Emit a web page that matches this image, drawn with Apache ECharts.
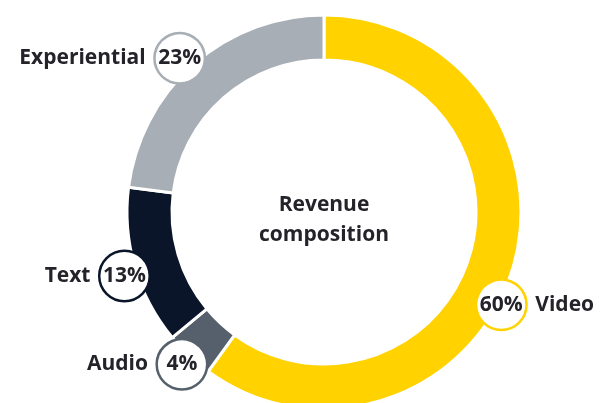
<!DOCTYPE html>
<html>
<head>
<meta charset="utf-8">
<script src="https://cdn.jsdelivr.net/npm/echarts@6/dist/echarts.min.js"></script>
<style>
  html, body { margin: 0; padding: 0; background: #fff; }
  #chart { width: 603px; height: 403px; }
</style>
</head>
<body>
<div id="chart"></div>
<script>
// Revenue composition by format (percent of total)
const categories = ['Video', 'Audio', 'Text', 'Experiential'];
const shares = [60, 4, 13, 23];
const centerTitle = 'Revenue\ncomposition';

const palette = {
  Video: '#FFD200',
  Audio: '#56606C',
  Text: '#0A1529',
  Experiential: '#A8AEB5'
};
const ink = '#25232A';
const fontFamily = '"Open Sans", Roboto, sans-serif';

// Ring geometry (px)
const CX = 324, CY = 212, R_IN = 152, R_OUT = 197;
const LABEL_R = 209;      // radius of the percentage badges
const BADGE = 25;         // badge radius
// Small per-badge adjustments; Video sits lower so its name fits the canvas
const labelNudge = {
  Video: { angle: 9.5, radius: -8 },
  Experiential: { angle: -2, radius: 2.5 },
  Text: { angle: -1.5, radius: 1.5 }
};

const total = shares.reduce((a, b) => a + b, 0);
let acc = 0;
const midAngles = shares.map(v => {
  const mid = (acc + v / 2) / total * 360;
  acc += v;
  return mid;
});

const chart = echarts.init(document.getElementById('chart'), null, { renderer: 'canvas' });

const data = categories.map((name, i) => {
  const rightSide = midAngles[i] < 180;
  return {
    name,
    value: shares[i],
    itemStyle: { color: palette[name] },
    label: {
      formatter: rightSide
        ? '{pct|' + shares[i] + '%}{gap|}{name|' + name + '}'
        : '{name|' + name + '}{gap|}{pct|' + shares[i] + '%}',
      rich: {
        name: { fontSize: 21, fontWeight: 'bold', color: ink, fontFamily, verticalAlign: 'middle' },
        gap: { width: 10 },
        pct: {
          fontSize: 21, fontWeight: 'bold', color: ink, fontFamily,
          width: 2 * BADGE - 2, height: 2 * BADGE - 2, lineHeight: 2 * BADGE - 2,
          align: 'center', verticalAlign: 'middle',
          backgroundColor: '#fff', borderColor: palette[name], borderWidth: 2.5,
          borderRadius: BADGE
        }
      }
    }
  };
});

chart.setOption({
  animation: false,
  backgroundColor: '#fff',
  graphic: [{
    type: 'text',
    x: CX, y: CY + 8,
    style: {
      text: centerTitle, align: 'center', verticalAlign: 'middle',
      font: 'bold 21px ' + fontFamily, fill: ink, lineHeight: 30
    }
  }],
  series: [{
    type: 'pie',
    center: [CX, CY],
    radius: [R_IN, R_OUT],
    startAngle: 90,
    clockwise: true,
    avoidLabelOverlap: false,
    itemStyle: { borderColor: '#fff', borderWidth: 3 },
    emphasis: { disabled: true },
    label: { show: true, position: 'outside' },
    labelLine: { show: false },
    labelLayout: function (p) {
      const name = categories[p.dataIndex];
      const nudge = labelNudge[name] || { angle: 0, radius: 0 };
      const ang = (midAngles[p.dataIndex] + nudge.angle) * Math.PI / 180;
      const r = LABEL_R + nudge.radius;
      const bx = CX + r * Math.sin(ang);
      const by = CY - r * Math.cos(ang);
      const rightSide = midAngles[p.dataIndex] < 180;
      return {
        x: rightSide ? bx - BADGE : bx + BADGE,
        y: by,
        align: rightSide ? 'left' : 'right',
        verticalAlign: 'middle'
      };
    },
    data
  }]
});
</script>
</body>
</html>
